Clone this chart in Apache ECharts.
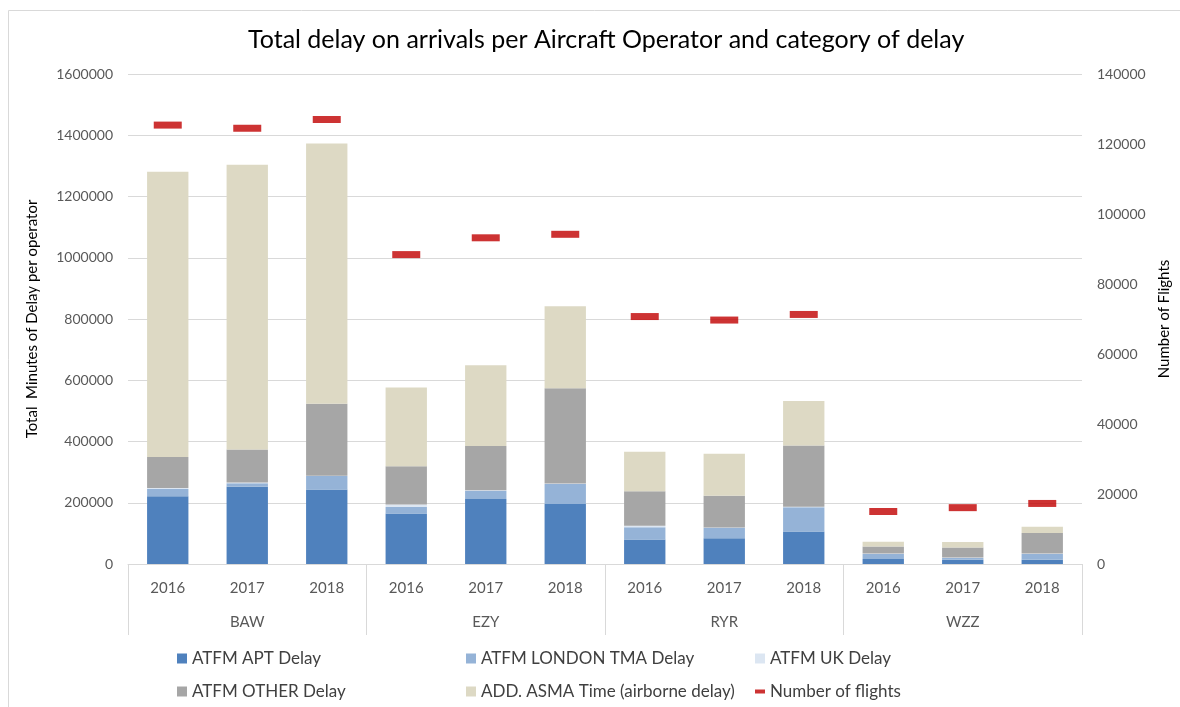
<!DOCTYPE html>
<html>
<head>
<meta charset="utf-8">
<script src="https://cdn.jsdelivr.net/npm/echarts@6/dist/echarts.min.js"></script>
<style>
html,body{margin:0;padding:0;background:#fff;}
#chart{width:1180px;height:707px;}
</style>
</head>
<body>
<div id="chart"></div>
<script>
const years = ['2016','2017','2018','2016','2017','2018','2016','2017','2018','2016','2017','2018'];
const operators = ['BAW','EZY','RYR','WZZ'];
const aptDelay   = [221000, 252000, 243000, 165000, 212000, 196000, 80000, 84000, 106000, 16000, 14000, 14000];
const tmaDelay   = [24000, 12000, 44000, 21000, 27000, 65000, 40000, 34000, 79000, 17000, 6000, 19000];
const ukDelay    = [3000, 2000, 1000, 8000, 2000, 2000, 4500, 1000, 2000, 1000, 1000, 1000];
const otherDelay = [101000, 108000, 235000, 125000, 144000, 311000, 113000, 104000, 200000, 23000, 33000, 67000];
const asmaTime   = [932000, 930000, 850000, 257000, 264000, 268000, 129000, 137000, 145000, 16000, 18000, 21000];
const flights    = [125400, 124500, 127000, 88400, 93200, 94200, 70700, 69700, 71300, 15000, 16100, 17300];

const FONT = 'Lato';
const chart = echarts.init(document.getElementById('chart'));
const barBase = {type:'bar', stack:'delay', barCategoryGap:'48%', xAxisIndex:0, yAxisIndex:0};
const legendText = {fontFamily:FONT, fontSize:17, color:'#404040'};
function lg(name, left, top, h){
  return {data:[name], left:left, top:top, itemWidth:10, itemHeight:h||10, icon:'rect', textStyle:legendText};
}
chart.setOption({
  animation:false,
  textStyle:{fontFamily:FONT},
  title:{text:'Total delay on arrivals per Aircraft Operator and category of delay', left:243, top:22,
    textStyle:{fontFamily:FONT, fontSize:25, fontWeight:'normal', color:'#000'}},
  graphic:[{type:'rect', shape:{x:8.5,y:10.5,width:1190,height:720}, style:{fill:'none', stroke:'#d9d9d9', lineWidth:1}, silent:true}],
  grid:{left:128, right:98, top:74, bottom:143},
  legend:[
    lg('ATFM APT Delay', 172, 645),
    lg('ATFM LONDON TMA Delay', 461, 645),
    lg('ATFM UK Delay', 750, 645),
    lg('ATFM OTHER Delay', 172, 678),
    lg('ADD. ASMA Time (airborne delay)', 461, 678),
    lg('Number of flights', 750, 678, 4)
  ],
  xAxis:[
    {type:'category', data:years, position:'bottom',
      axisLine:{lineStyle:{color:'#d9d9d9'}}, axisTick:{show:false},
      axisLabel:{fontFamily:FONT, fontSize:15, color:'#595959', margin:17}},
    {type:'category', data:operators, position:'bottom',
      axisLine:{show:false},
      axisTick:{show:true, length:71, interval:0, lineStyle:{color:'#d9d9d9'}},
      axisLabel:{fontFamily:FONT, fontSize:15, color:'#595959', margin:51}}
  ],
  yAxis:[
    {type:'value', min:0, max:1600000, interval:200000, position:'left',
      name:'Total  Minutes of Delay per operator', nameLocation:'middle', nameGap:88, nameRotate:90,
      nameTextStyle:{fontFamily:FONT, fontSize:15, color:'#000'},
      axisLine:{show:false}, axisTick:{show:false},
      axisLabel:{fontFamily:FONT, fontSize:14, color:'#595959', margin:15, formatter:v=>String(v)},
      splitLine:{lineStyle:{color:'#d9d9d9'}}},
    {type:'value', min:0, max:140000, interval:20000, position:'right',
      name:'Number of Flights', nameLocation:'middle', nameGap:75, nameRotate:90,
      nameTextStyle:{fontFamily:FONT, fontSize:15, color:'#000'},
      axisLine:{show:false}, axisTick:{show:false},
      axisLabel:{fontFamily:FONT, fontSize:14, color:'#595959', margin:15, formatter:v=>String(v)},
      splitLine:{show:false}}
  ],
  series:[
    Object.assign({}, barBase, {name:'ATFM APT Delay', data:aptDelay, itemStyle:{color:'#4F81BD'}}),
    Object.assign({}, barBase, {name:'ATFM LONDON TMA Delay', data:tmaDelay, itemStyle:{color:'#95B3D7'}}),
    Object.assign({}, barBase, {name:'ATFM UK Delay', data:ukDelay, itemStyle:{color:'#DCE6F2'}}),
    Object.assign({}, barBase, {name:'ATFM OTHER Delay', data:otherDelay, itemStyle:{color:'#A6A6A6'}}),
    Object.assign({}, barBase, {name:'ADD. ASMA Time (airborne delay)', data:asmaTime, itemStyle:{color:'#DDD9C4'}}),
    {type:'scatter', name:'Number of flights', data:flights, xAxisIndex:0, yAxisIndex:1,
      symbol:'rect', symbolSize:[28,7], itemStyle:{color:'#C00000'}, z:5}
  ]
});
</script>
</body>
</html>
